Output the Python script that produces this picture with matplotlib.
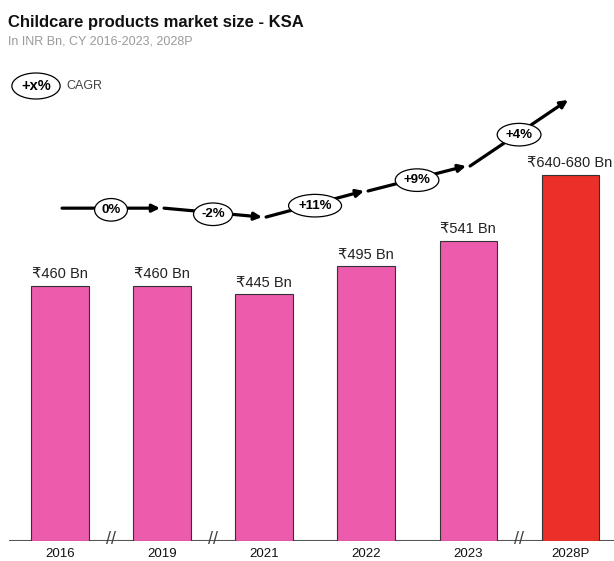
import matplotlib.pyplot as plt

years = ['2016', '2019', '2021', '2022', '2023', '2028P']
market_size = [460, 460, 445, 495, 541, 660]
value_labels = ['₹460 Bn', '₹460 Bn', '₹445 Bn', '₹495 Bn', '₹541 Bn', '₹640-680 Bn']
bar_colors = ['#EC5BAC', '#EC5BAC', '#EC5BAC', '#EC5BAC', '#EC5BAC', '#EA3028']

# CAGR arrow path (x in bar index units, y in INR Bn) and labels
cagr_x = [0.0, 1.0, 2.0, 3.0, 4.0, 5.0]
cagr_y = [600, 600, 584, 631, 676, 795]
cagr_labels = ['0%', '-2%', '+11%', '+9%', '+4%']
breaks = [0.5, 1.5, 4.5]

FONT = ['Liberation Sans', 'DejaVu Sans']
plt.rcParams['font.family'] = FONT

fig = plt.figure(figsize=(6.14, 5.61), dpi=100)
ax = fig.add_axes([9 / 614, 20 / 561, 607 / 614, 451 / 561])

x = list(range(len(years)))
ax.bar(x, market_size, width=0.56, color=bar_colors, edgecolor='#333333', linewidth=0.8, zorder=2)

for i, lab in enumerate(value_labels):
    ax.text(i, market_size[i] + 8, lab, ha='center', va='bottom', fontsize=10.5, color='#222222')

# arrows
for i in range(len(cagr_labels)):
    x0, y0 = cagr_x[i] + 0.02, cagr_y[i]
    x1, y1 = cagr_x[i + 1] - 0.02, cagr_y[i + 1]
    ax.annotate('', xy=(x1, y1), xytext=(x0, y0),
                arrowprops=dict(arrowstyle='-|>', color='black', lw=2.3,
                                mutation_scale=11, shrinkA=0, shrinkB=0), zorder=3)
    ax.text((x0 + x1) / 2, (y0 + y1) / 2 - 3, cagr_labels[i], ha='center', va='center',
            fontsize=9.5, fontweight='bold', zorder=4,
            bbox=dict(boxstyle='ellipse,pad=0.15', fc='white', ec='black', lw=0.9))

ax.set_xlim(-0.5, 5.45)
ax.set_ylim(0, 813)
for s in ['top', 'right', 'left', 'bottom']:
    ax.spines[s].set_visible(False)
ax.axhline(0, color='#555555', lw=1.5, zorder=1)
ax.set_yticks([])
ax.set_xticks(x)
ax.set_xticklabels(years, fontsize=9.5, color='#111111')
ax.tick_params(axis='x', length=0, pad=5)

for b in breaks:
    ax.text(b, 2, '//', ha='center', va='center', fontsize=13, color='#444444', zorder=3)

fig.text(8 / 614, 1 - 22 / 561, 'Childcare products market size - KSA', fontsize=12,
         fontweight='bold', color='#111111', va='center', ha='left')
fig.text(8 / 614, 1 - 42 / 561, 'In INR Bn, CY 2016-2023, 2028P', fontsize=9,
         color='#9a9a9a', va='center', ha='left')
fig.text(36 / 614, 1 - 86 / 561, '+x%', fontsize=10.5, fontweight='bold', va='center', ha='center',
         bbox=dict(boxstyle='ellipse,pad=0.15', fc='white', ec='black', lw=0.9))
fig.text(66 / 614, 1 - 86 / 561, 'CAGR', fontsize=9, color='#444444', va='center', ha='left')

fig.savefig('out.png', dpi=100)
